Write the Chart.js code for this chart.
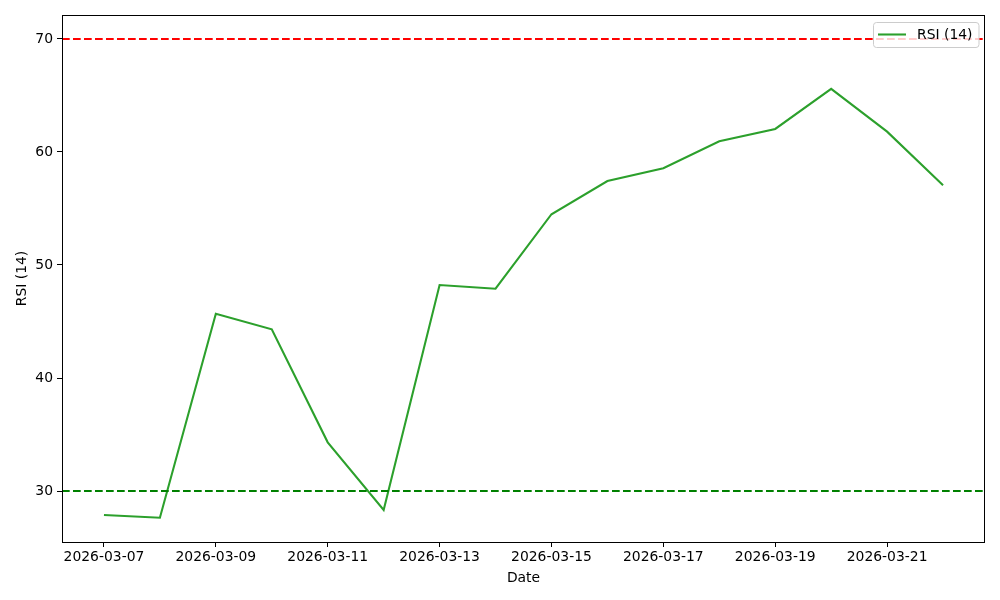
<!DOCTYPE html>
<html>
<head>
<meta charset="utf-8">
<script src="https://cdn.jsdelivr.net/npm/chart.js@4"></script>
<style>
html,body{margin:0;padding:0;background:#fff;}
#wrap{width:1000px;height:600px;}
</style>
</head>
<body>
<div id="wrap"><canvas id="c" width="1000" height="600"></canvas></div>
<script>
const dates = ['2026-03-07','2026-03-08','2026-03-09','2026-03-10','2026-03-11','2026-03-12','2026-03-13','2026-03-14','2026-03-15','2026-03-16','2026-03-17','2026-03-18','2026-03-19','2026-03-20','2026-03-21','2026-03-22'];
const rsiValues = [27.88, 27.64, 45.69, 44.31, 34.31, 28.32, 48.23, 47.90, 54.49, 57.43, 58.56, 60.94, 62.04, 65.58, 61.80, 57.05];
const overbought = 70;
const oversold = 30;
const yTickValues = [30, 40, 50, 60, 70];
const xTickLabels = ['2026-03-07','2026-03-09','2026-03-11','2026-03-13','2026-03-15','2026-03-17','2026-03-19','2026-03-21'];
const seriesLabel = 'RSI (14)';

const FONT = 'DejaVu Sans';
const FS = 13.9;
const xMin = -0.75, xMax = dates.length - 1 + 0.75;
const yMin = 25.49, yMax = 72.12;

const rsiPoints = rsiValues.map((v, i) => ({x: i, y: v}));
const hline = v => [{x: xMin, y: v}, {x: xMax, y: v}];

const framePlugin = {
  id: 'frame',
  afterDraw(chart) {
    const {ctx, chartArea: a} = chart;
    ctx.save();
    ctx.strokeStyle = '#000';
    ctx.lineWidth = 1;
    ctx.strokeRect(Math.round(a.left) + 0.5, Math.round(a.top) + 0.5, Math.round(a.right - a.left) - 1, Math.round(a.bottom - a.top));
    // legend
    const ds = chart.data.datasets.find(d => d.label === seriesLabel);
    ctx.font = FS + 'px "' + FONT + '"';
    const tw = ctx.measureText(ds.label).width;
    const w = 50 + tw;
    const h = 25;
    const x = Math.round(a.right - 7 - w);
    const y = a.top + 7;
    ctx.beginPath();
    ctx.roundRect(x + 0.5, y + 0.5, w, h, 3);
    ctx.fillStyle = 'rgba(255,255,255,0.8)';
    ctx.fill();
    ctx.strokeStyle = '#cccccc';
    ctx.lineWidth = 1;
    ctx.stroke();
    ctx.beginPath();
    ctx.moveTo(x + 5, y + 12.5);
    ctx.lineTo(x + 33, y + 12.5);
    ctx.strokeStyle = ds.borderColor;
    ctx.lineWidth = ds.borderWidth;
    ctx.stroke();
    ctx.fillStyle = '#000';
    ctx.textBaseline = 'middle';
    ctx.textAlign = 'left';
    ctx.fillText(ds.label, x + 44, y + 13);
    ctx.restore();
  }
};

new Chart(document.getElementById('c'), {
  type: 'line',
  data: {
    datasets: [
      {label: 'overbought', data: hline(overbought), borderColor: '#ff0000', borderWidth: 2.08, borderDash: [7.7, 3.3], pointRadius: 0, fill: false},
      {label: 'oversold', data: hline(oversold), borderColor: '#008000', borderWidth: 2.08, borderDash: [7.7, 3.3], pointRadius: 0, fill: false},
      {label: seriesLabel, data: rsiPoints, borderColor: '#2ca02c', borderWidth: 2.08, pointRadius: 0, fill: false, tension: 0}
    ]
  },
  options: {
    responsive: false,
    animation: false,
    layout: {padding: {top: 15, right: 15, left: 0, bottom: 0}},
    plugins: {legend: {display: false}, tooltip: {enabled: false}},
    scales: {
      x: {
        type: 'linear', min: xMin, max: xMax,
        afterBuildTicks(s) { s.ticks = xTickLabels.map(l => ({value: dates.indexOf(l)})); },
        afterFit(s) { s.height = 58; },
        ticks: {
          callback: v => dates[v],
          color: '#000', font: {family: FONT, size: FS}, padding: 2, maxRotation: 0, autoSkip: false
        },
        grid: {drawOnChartArea: false, drawTicks: true, tickLength: 5, tickColor: '#000', tickWidth: 1},
        border: {display: false},
        title: {display: true, text: 'Date', color: '#000', font: {family: FONT, size: FS}, padding: {top: 2, bottom: 13}}
      },
      y: {
        type: 'linear', min: yMin, max: yMax,
        afterBuildTicks(s) { s.ticks = yTickValues.map(v => ({value: v})); },
        afterFit(s) { s.width = 62; },
        ticks: {color: '#000', font: {family: FONT, size: FS}, padding: 4},
        grid: {drawOnChartArea: false, drawTicks: true, tickLength: 5, tickColor: '#000', tickWidth: 1},
        border: {display: false},
        title: {display: true, text: 'RSI (14)', color: '#000', font: {family: FONT, size: FS}, padding: {top: 14, bottom: 0}}
      }
    }
  },
  plugins: [framePlugin]
});
</script>
</body>
</html>
